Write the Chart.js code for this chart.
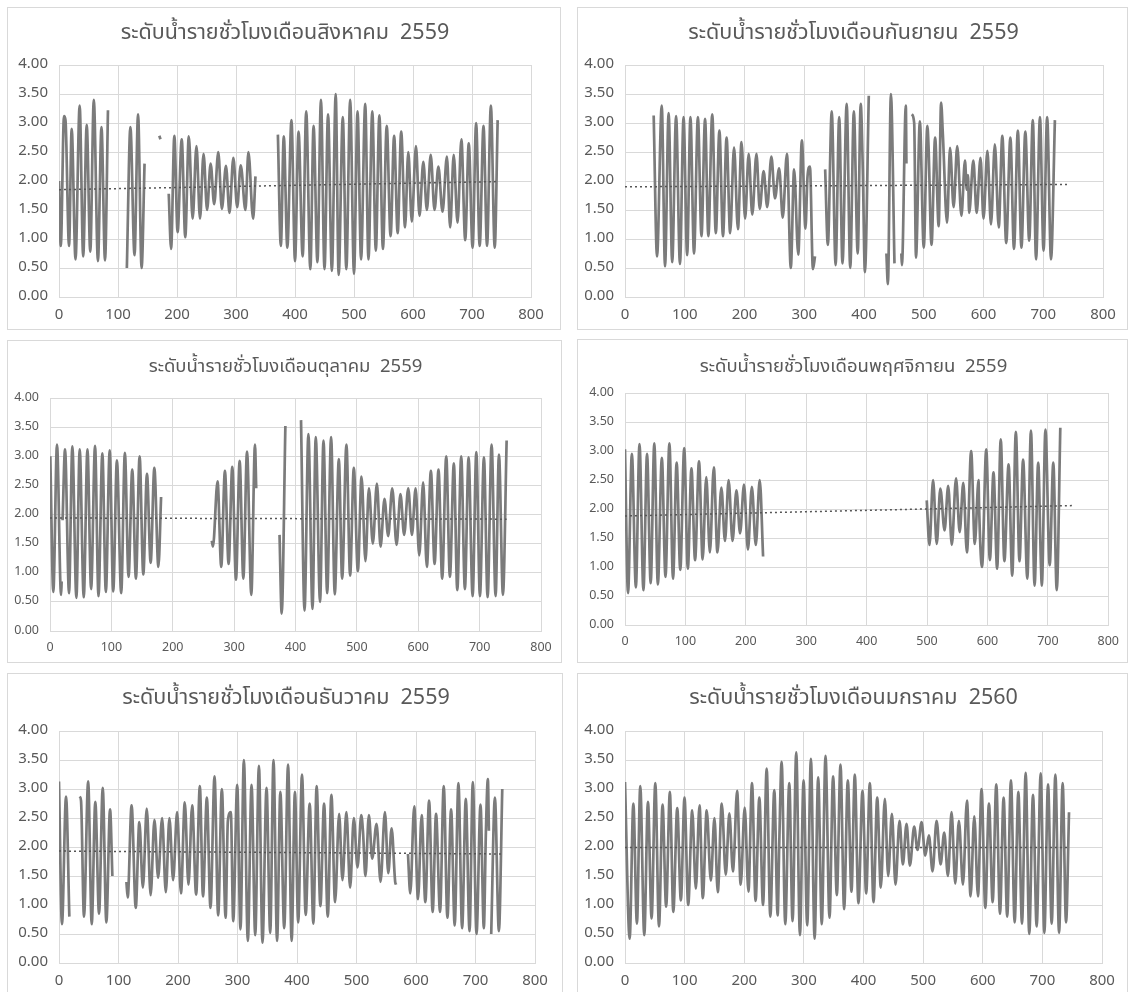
<!DOCTYPE html>
<html>
<head>
<meta charset="utf-8">
<script src="https://cdn.jsdelivr.net/npm/chart.js@4.4.1/dist/chart.umd.min.js"></script>
<style>
  html, body { margin: 0; padding: 0; background: #fff; }
  body { width: 1129px; height: 992px; position: relative; overflow: hidden; }
  .panel { position: absolute; border: 1px solid #d9d9d9; box-sizing: border-box; background: #fff; }
  .panel canvas { position: absolute; left: 0; top: 0; }
</style>
</head>
<body>
<div class="panel" id="p-aug"><canvas id="c-aug"></canvas></div>
<div class="panel" id="p-sep"><canvas id="c-sep"></canvas></div>
<div class="panel" id="p-oct"><canvas id="c-oct"></canvas></div>
<div class="panel" id="p-nov"><canvas id="c-nov"></canvas></div>
<div class="panel" id="p-dec"><canvas id="c-dec"></canvas></div>
<div class="panel" id="p-jan"><canvas id="c-jan"></canvas></div>
<script>
// ชั่วโมงที่ (แกน x) และระดับน้ำ (ม.) อ่านจากรูป: เฉพาะยอดน้ำขึ้น/น้ำลง, null = ข้อมูลขาด
const hoursAug = [
  0, 3, 8.5, 11, 17, 21.5, 28, 35, 41, 47, 53, 59, 66, 72, 78, 83, null,
  115, 121, 128, 134, 140, 145, null,
  170, 172, null,
  186, 190, 195.5, 201, 208, 214, 220, 226.5, 233, 239, 245, 251, 257, 263, 270, 276, 283, 289, 295.5, 302, 308, 316, 321, 329, 333, null,
  371, 376, 381, 387, 394, 400, 406, 413, 419, 426, 431.5, 438, 444, 450, 456, 462.5, 469, 474, 481, 487,
  493.5, 500, 506, 512, 519, 524.5, 531, 537, 543, 549, 555.5, 562, 568, 574, 580, 586.5, 592, 598, 605, 611,
  617.5, 623.5, 630, 636.5, 643, 650, 657.5, 663, 669, 675.5, 682, 688.5, 694.5, 701, 707, 713, 719.5, 725.5, 732, 738.5, 743.5
]
const levelAug = [
  2.0, 0.88, 3.12, 3.05, 0.88, 2.9, 0.65, 3.3, 0.7, 2.97, 0.78, 3.4, 0.62, 2.93, 0.63, 3.22, null,
  0.5, 2.93, 0.72, 3.15, 0.5, 2.3, null,
  2.78, 2.72, null,
  1.78, 0.83, 2.78, 1.12, 2.72, 1.03, 2.77, 1.35, 2.6, 1.35, 2.47, 1.5, 2.3, 1.6, 2.5, 1.52, 2.26, 1.45, 2.4, 1.55, 2.27, 1.5, 2.5, 1.35, 2.08, null,
  2.8, 0.88, 2.77, 0.85, 3.05, 0.62, 2.85, 0.7, 3.2, 0.48, 2.95, 0.6, 3.4, 0.48, 3.15, 0.45, 3.5, 0.38, 3.1, 0.48,
  3.4, 0.4, 3.2, 0.65, 3.33, 0.65, 3.2, 0.8, 3.13, 0.83, 2.95, 1.05, 2.78, 1.1, 2.85, 1.2, 2.5, 1.3, 2.6, 1.4,
  2.33, 1.5, 2.45, 1.5, 2.25, 1.47, 2.42, 1.2, 2.45, 1.28, 2.72, 0.98, 2.65, 0.85, 3.0, 0.88, 2.95, 0.88, 3.3, 0.85, 3.05
]

const hoursSep = [
  48, 53.6, 61.5, 67, 73, 79, 85.5, 92, 98, 104, 109.5, 115.5, 122, 128, 134, 139.5, 146, 152, 158, 164,
  170, 176, 182.5, 189, 195, 201, 207, 213, 220, 225.5, 232, 238, 245, 251, 258, 264, 271, 277.5, 283, 290,
  296, 302, 305.5, 309.5, 314.5, 318, null,
  335, 339.5, 346, 352.5, 358.5, 364, 371, 377, 383, 389.5, 394.5, 398, 401.5, 408, null,
  437.5, 440, 445, 451, null,
  462.5, 463.5, 470, 471, null,
  480, 484, 487, 493.5, 500, 506, 508, 513, 519, 525, 529, 532, 539, 544, 550, 556, 563, 569, 572, 574,
  576, 583, 588.5, 595, 600, 606.5, 612.5, 619, 625.5, 631.5, 638, 645, 651, 657.5, 663.5, 670, 676.5, 682.5, 688, 694.5,
  700.5, 706.5, 713, 719.5
]
const levelSep = [
  3.13, 0.7, 3.3, 0.53, 3.17, 0.6, 3.12, 0.57, 3.1, 0.72, 3.1, 0.75, 3.1, 1.05, 3.07, 1.05, 3.15, 1.1, 2.87, 1.05,
  2.75, 1.1, 2.58, 1.17, 2.67, 1.35, 2.47, 1.42, 2.47, 1.52, 2.17, 1.55, 2.42, 1.7, 2.22, 1.37, 2.47, 0.5, 2.2, 0.73,
  2.7, 1.18, 2.08, 2.25, 0.48, 0.7, null,
  2.2, 0.9, 3.2, 0.55, 3.1, 0.58, 3.33, 0.5, 3.2, 0.75, 3.33, 2.2, 0.43, 3.47, null,
  0.75, 0.22, 3.5, 0.58, null,
  0.75, 0.55, 3.3, 2.3, null,
  3.15, 3.0, 0.68, 3.03, 0.85, 2.95, 2.6, 0.9, 2.75, 1.22, 3.35, 2.8, 1.28, 2.57, 1.55, 2.6, 1.4, 2.35, 1.85, 2.1,
  1.45, 2.35, 1.45, 2.4, 1.35, 2.52, 1.25, 2.63, 1.2, 2.78, 0.93, 2.75, 0.83, 2.87, 0.85, 2.85, 0.97, 3.05, 0.65, 3.1,
  0.8, 3.1, 0.65, 3.05
]

const hoursOct = [
  0.5, 5.4, 11.4, 18, 19, null, 20.5, 24.5, 31, 36.4, 43, 48.4, 55, 61, 67, 73.4, 79, 85.3, 91, 97.3, 103,
  109, 116, 122, 128, 134, 140, 146, 152, 158, 164, 170, 176.6, 181, null,
  263.6, 265.5, 273, 279, 285, 291, 297, 303, 309, 315, 321, 328, 334, 336, null,
  374, 377.5, 383.5, null,
  409, 414.7, 421, 427.7, 433, 440, 445.6, 451.6, 458, 464, 470.6, 476, 483, 489, 495, 501.6, 507.6, 514, 519.6, 526,
  532.6, 538.6, 545, 551, 557.6, 564.7, 571, 577, 583.7, 589.7, 595.7, 601.6, 608, 614, 620.6, 626.6, 633, 639, 645.6, 651.6,
  658, 663.6, 670, 676, 682, 688.6, 694.6, 700.5, 707, 713, 719.5, 726, 731.5, 738, 744
]
const levelOct = [
  3.0, 0.67, 3.2, 0.62, 0.85, null, 1.9, 3.12, 0.65, 3.17, 0.57, 3.12, 0.58, 3.12, 0.72, 3.18, 0.6, 3.05, 0.67, 3.1, 0.68,
  2.93, 0.65, 3.06, 0.93, 2.77, 0.9, 3.0, 0.97, 2.7, 1.17, 2.8, 1.1, 2.3, null,
  1.55, 1.45, 2.57, 1.1, 2.75, 1.15, 2.82, 0.88, 2.92, 0.9, 3.08, 0.62, 3.2, 2.45, null,
  1.65, 0.3, 3.52, null,
  3.62, 0.35, 3.38, 0.38, 3.33, 0.5, 3.27, 0.65, 3.33, 0.63, 2.95, 0.9, 3.2, 0.95, 2.8, 1.03, 2.65, 1.2, 2.45, 1.5,
  2.53, 1.45, 2.27, 1.63, 2.45, 1.48, 2.35, 1.65, 2.45, 1.65, 2.45, 1.3, 2.55, 1.1, 2.75, 1.15, 2.77, 0.9, 3.0, 0.93,
  2.88, 0.7, 3.0, 0.72, 2.98, 0.6, 3.07, 0.6, 2.98, 0.58, 3.2, 0.6, 3.03, 0.62, 3.27
]

const hoursNov = [
  0, 5, 11.4, 18, 24, 30.5, 36.5, 42.5, 48.5, 54.4, 61, 67, 73.5, 79.5, 85.5, 91.5, 98, 104, 110, 116,
  122.5, 128.5, 134.5, 140.5, 147, 153, 159.5, 165.5, 171.5, 178, 184.5, 190.5, 197, 203.5, 210, 216.5, 223, 228.6, null,
  499.5, 504, 510, 516, 522, 529, 535, 541, 548, 554, 560, 566, 573, 579, 585.3, 586, 591, 598, 604, 610,
  616, 622, 628, 635, 641, 647, 653, 659, 666, 672, 678, 684, 688.5, 690, 696, 703, 709, 714.7, 720.6
]
const levelNov = [
  3.03, 0.55, 2.95, 0.65, 3.12, 0.6, 2.95, 0.72, 3.13, 0.7, 2.88, 0.83, 3.13, 0.8, 2.8, 0.95, 3.05, 0.97, 2.7, 1.12,
  2.82, 1.13, 2.55, 1.25, 2.72, 1.25, 2.37, 1.45, 2.5, 1.45, 2.32, 1.58, 2.42, 1.3, 2.38, 1.38, 2.5, 1.18, null,
  2.15, 1.38, 2.5, 1.4, 2.35, 1.63, 2.4, 1.38, 2.53, 1.6, 2.45, 1.25, 3.0, 1.4, 2.5, 2.1, 1.0, 3.03, 1.12, 2.63,
  0.97, 3.2, 1.1, 2.77, 0.85, 3.33, 1.1, 2.85, 0.8, 3.35, 0.68, 2.8, 1.05, 0.68, 3.37, 1.03, 2.8, 0.6, 3.4
]

const hoursDec = [
  0, 5, 11.8, 17.4, null,
  34.8, 37, 42, 49, 55, 61, 67.3, 73.5, 79.6, 85.8, 89.7, null,
  113.3, 115.5, 122, 129, 135, 141, 147.5, 154, 160.4, 166.6, 173.3, 179.5, 185.6, 191.8, 198.5, 205, 211.4, 217.6, 223.8, 230.5,
  236.7, 242, 248.5, 254.6, 261.4, 267.5, 273.7, 280, 283.8, 288.8, 292.8, 299.5, 305, 310.7, 317.4, 323.6, 329.8, 336, 342, 348.8,
  355, 360.5, 366.5, 372, 378.5, 385, 391, 396.5, 402, 408.4, 414.6, 421.3, 427.5, 433, 439.3, 445.5, 451.7, 457.8, 464, 470.8,
  476.4, 483, 489.3, 495.5, 501.7, 508, 511, 515, 520.8, 526.4, 533.7, 540.4, 547.8, 553.4, 559, 565, 566.5, null,
  586.5, 590.4, 597, 603.4, 609.5, 615.7, 622, 628, 633.7, 640.4, 646.6, 652.8, 659, 665, 671.3, 677.5, 683.7, 690, 695.5, 701.7,
  708.4, 714, 717.5, 720.8, 722.5, null,
  726.4, 732.6, 739.3, 745
]
const levelDec = [
  3.13, 0.67, 2.87, 0.8, null,
  2.87, 2.8, 0.8, 3.13, 0.67, 2.78, 0.85, 3.02, 0.7, 2.65, 1.5, null,
  1.4, 1.13, 2.72, 0.95, 2.43, 1.3, 2.66, 1.17, 2.47, 1.47, 2.5, 1.22, 2.5, 1.43, 2.6, 1.2, 2.77, 1.35, 2.72, 1.18,
  3.05, 1.15, 2.85, 0.95, 3.22, 0.82, 3.0, 0.78, 2.45, 2.6, 0.72, 3.07, 0.58, 3.5, 0.38, 3.07, 0.48, 3.4, 0.35, 3.02,
  0.52, 3.5, 0.38, 2.95, 0.6, 3.42, 0.38, 2.95, 0.7, 3.25, 0.83, 2.75, 0.68, 3.05, 0.98, 2.75, 0.8, 2.9, 1.05, 2.57,
  1.43, 2.6, 1.3, 2.5, 1.65, 2.55, 2.25, 1.5, 2.55, 1.8, 2.4, 1.4, 2.6, 1.55, 2.32, 1.4, 1.35, null,
  1.88, 1.2, 2.7, 1.1, 2.55, 1.05, 2.8, 0.88, 2.57, 0.88, 3.05, 0.78, 2.65, 0.65, 3.1, 0.6, 2.83, 0.55, 3.12, 0.5,
  2.73, 0.6, 2.27, 3.17, 2.28, null,
  0.5, 2.85, 0.55, 3.0
]

const hoursJan = [
  0, 7.8, 14, 20, 25.6, 32.3, 38.5, 44.6, 50.8, 57, 63, 69, 75.3, 77, 81, 87.6, 93.7, 99.8, 106, 112.7,
  118.8, 125, 130.5, 137, 144, 150, 155.6, 162.3, 169, 175, 181, 183, 188, 194, 200.8, 207, 213, 219, 225.3, 231.5,
  237.6, 243.7, 250.4, 256, 258.8, 262.7, 268.8, 275.5, 281, 287.2, 293.4, 299.5, 305.6, 311.8, 318, 324, 330, 336.3, 343, 349,
  355.3, 361.4, 367.5, 373.7, 379.8, 385.4, 391.5, 398.3, 404.5, 410.6, 416.8, 423, 429, 435.8, 441.4, 447.6, 453.7, 460.4, 466, 472.2,
  477.8, 485, 490.6, 497.4, 503.5, 509.7, 515.8, 522.6, 529.3, 535.4, 541.6, 547.7, 553.9, 560, 566.8, 573.5, 579.6, 585.8, 592, 598,
  604.3, 610.4, 616.6, 622.7, 628.9, 635, 641, 647.3, 653.5, 659.7, 665.8, 672, 678, 684.3, 690.4, 697.2, 703.3, 709.5, 715.6, 721.8,
  728, 734, 739.7, 744.7
]
const levelJan = [
  3.12, 0.42, 2.75, 0.68, 3.05, 0.48, 2.78, 0.77, 3.1, 0.63, 2.73, 0.97, 2.95, 2.47, 0.88, 2.67, 1.08, 2.85, 1.0, 2.63,
  1.28, 2.72, 1.12, 2.63, 1.42, 2.5, 1.22, 2.75, 1.52, 2.58, 1.58, 1.85, 2.97, 1.35, 2.68, 1.23, 3.1, 1.07, 2.85, 1.0,
  3.35, 0.8, 2.98, 0.82, 2.1, 3.47, 0.67, 3.1, 0.72, 3.63, 0.48, 3.15, 0.65, 3.52, 0.42, 3.2, 0.67, 3.57, 0.78, 3.22,
  1.17, 3.42, 0.93, 3.15, 1.23, 3.25, 1.03, 2.97, 1.2, 3.1, 1.05, 2.85, 1.3, 2.83, 1.5, 2.57, 1.35, 2.45, 1.7, 2.4,
  1.68, 2.35, 1.95, 2.43, 1.85, 2.2, 1.58, 2.45, 1.7, 2.25, 1.5, 2.6, 1.37, 2.45, 1.35, 2.8, 1.15, 2.53, 1.15, 3.0,
  0.95, 2.75, 1.05, 3.08, 0.85, 2.85, 0.8, 3.15, 0.7, 2.95, 0.68, 3.28, 0.5, 2.9, 0.63, 3.27, 0.52, 3.08, 0.68, 3.25,
  0.52, 3.1, 0.7, 2.6
]

// เส้นแนวโน้ม (จุดเริ่ม/จุดสิ้นสุด)
const trendHours = [0, 744]
const trendAug = [1.85, 1.99]
const trendSep = [1.9, 1.94]
const trendOct = [1.94, 1.92]
const trendNov = [1.88, 2.06]
const trendDec = [1.93, 1.88]
const trendJan = [1.99, 1.99]

const xTicks = [0, 100, 200, 300, 400, 500, 600, 700, 800]
const yTicks = [0, 0.5, 1, 1.5, 2, 2.5, 3, 3.5, 4]

const titles = [
  'ระดับน้ำรายชั่วโมงเดือนสิงหาคม  2559',
  'ระดับน้ำรายชั่วโมงเดือนกันยายน  2559',
  'ระดับน้ำรายชั่วโมงเดือนตุลาคม  2559',
  'ระดับน้ำรายชั่วโมงเดือนพฤศจิกายน  2559',
  'ระดับน้ำรายชั่วโมงเดือนธันวาคม  2559',
  'ระดับน้ำรายชั่วโมงเดือนมกราคม  2560'
]

// ตำแหน่งกรอบแต่ละภาพ และพื้นที่กราฟ (พิกเซลของหน้า)
const panels = [
  { id: 'aug', hours: hoursAug, level: levelAug, trend: trendAug,
    box: { l: 7, t: 7, w: 554, h: 323 }, plot: { l: 58, r: 530, t: 64, b: 296 }, titleY: 34, titleSize: 21.5, tickSize: 15 },
  { id: 'sep', hours: hoursSep, level: levelSep, trend: trendSep,
    box: { l: 577, t: 7, w: 551, h: 323 }, plot: { l: 624, r: 1102, t: 64, b: 296 }, titleY: 34, titleSize: 21.5, tickSize: 15 },
  { id: 'oct', hours: hoursOct, level: levelOct, trend: trendOct,
    box: { l: 7, t: 340, w: 555, h: 323 }, plot: { l: 49, r: 540, t: 397, b: 630 }, titleY: 367, titleSize: 18.5, tickSize: 12.5 },
  { id: 'nov', hours: hoursNov, level: levelNov, trend: trendNov,
    box: { l: 577, t: 339, w: 551, h: 324 }, plot: { l: 624, r: 1114, t: 392, b: 624 }, titleY: 367, titleSize: 18.5, tickSize: 12.5 },
  { id: 'dec', hours: hoursDec, level: levelDec, trend: trendDec,
    box: { l: 7, t: 673, w: 556, h: 330 }, plot: { l: 58, r: 534, t: 730, b: 962 }, titleY: 699, titleSize: 21.5, tickSize: 15 },
  { id: 'jan', hours: hoursJan, level: levelJan, trend: trendJan,
    box: { l: 577, t: 673, w: 551, h: 330 }, plot: { l: 624, r: 1101, t: 730, b: 962 }, titleY: 699, titleSize: 21.5, tickSize: 15 }
]

const FONT = '"Noto Sans Thai", "Leelawadee UI", Tahoma, "Noto Sans", "DejaVu Sans", sans-serif'
const TEXT_COLOR = '#595959'
const GRID_COLOR = '#d9d9d9'

function makeChart(p, title) {
  const div = document.getElementById('p-' + p.id)
  div.style.left = p.box.l + 'px'
  div.style.top = p.box.t + 'px'
  div.style.width = p.box.w + 'px'
  div.style.height = p.box.h + 'px'

  const canvas = document.getElementById('c-' + p.id)
  canvas.width = p.box.w
  canvas.height = p.box.h

  if (p.hours.length !== p.level.length) console.warn('length mismatch', p.id)

  const points = p.hours.map((h, i) => ({ x: h, y: p.level[i] }))
  const trendPoints = trendHours.map((h, i) => ({ x: h, y: p.trend[i] }))

  const lh = p.titleSize * 1.2
  const titleTop = p.titleY - p.box.t - lh / 2
  const titleBottom = p.plot.t - p.box.t - titleTop - lh
  // ช่องว่างด้านขวาของพื้นที่กราฟ (ใช้แกนเปล่าแทน padding เพื่อให้ชื่อกราฟอยู่กลางกรอบ)
  const rightGap = p.box.l + p.box.w - p.plot.r

  new Chart(canvas, {
    type: 'line',
    data: {
      datasets: [
        {
          data: points,
          borderColor: '#7b7b7b',
          borderWidth: 2.7,
          pointRadius: 0,
          cubicInterpolationMode: 'monotone',
          spanGaps: false,
          order: 2,
        },
        {
          data: trendPoints,
          borderColor: '#555',
          borderWidth: 1.5,
          borderDash: [2, 3],
          pointRadius: 0,
          order: 1,
        },
      ],
    },
    options: {
      responsive: false,
      animation: false,
      events: [],
      layout: { padding: 0 },
      scales: {
        x: {
          type: 'linear',
          min: 0,
          max: 800,
          afterBuildTicks: (s) => { s.ticks = xTicks.map(v => ({ value: v })) },
          afterFit: (s) => { s.height = p.box.t + p.box.h - p.plot.b },
          ticks: { color: TEXT_COLOR, font: { family: FONT, size: p.tickSize }, padding: 10, maxRotation: 0 },
          grid: { color: GRID_COLOR, drawTicks: false },
          border: { color: GRID_COLOR },
        },
        y: {
          min: 0,
          max: 4,
          afterBuildTicks: (s) => { s.ticks = yTicks.map(v => ({ value: v })) },
          afterFit: (s) => { s.width = p.plot.l - p.box.l },
          ticks: {
            color: TEXT_COLOR,
            font: { family: FONT, size: p.tickSize },
            padding: 11,
            callback: (v) => Number(v).toFixed(2),
          },
          grid: { color: GRID_COLOR, drawTicks: false },
          border: { display: false },
        },
        yRight: {
          type: 'linear',
          axis: 'y',
          position: 'right',
          min: 0,
          max: 4,
          afterFit: (s) => { s.width = rightGap },
          ticks: { display: false },
          grid: { display: false, drawTicks: false },
          border: { display: false },
        },
      },
      plugins: {
        legend: { display: false },
        tooltip: { enabled: false },
        title: {
          display: true,
          text: title,
          color: TEXT_COLOR,
          font: { family: FONT, size: p.titleSize, weight: 'normal', lineHeight: 1.2 },
          padding: { top: titleTop, bottom: titleBottom },
        },
      },
    },
  })
}

panels.forEach((p, i) => makeChart(p, titles[i]))
</script>
</body>
</html>
